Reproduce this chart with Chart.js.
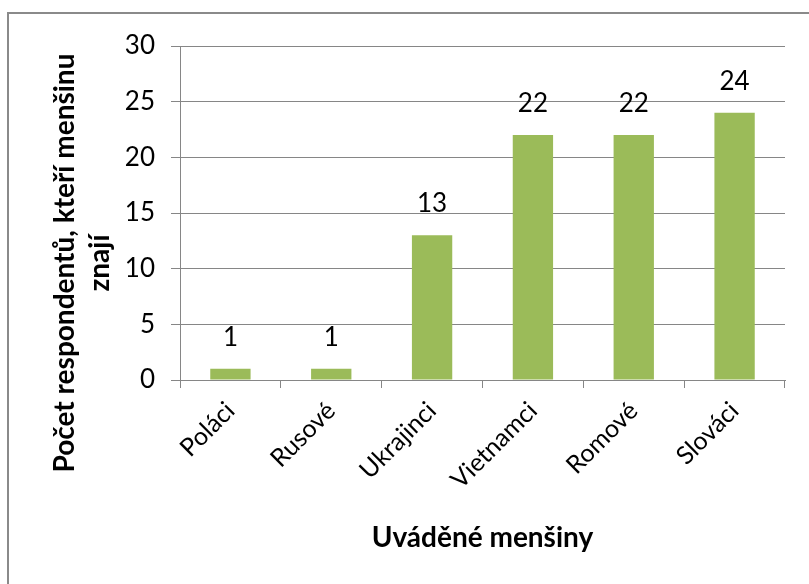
<!DOCTYPE html>
<html>
<head>
<meta charset="utf-8">
<script src="https://cdn.jsdelivr.net/npm/chart.js@4.4.1/dist/chart.umd.min.js"></script>
<style>
  html, body { margin: 0; padding: 0; background: #fff; }
  #c { display: block; }
</style>
</head>
<body>
<canvas id="c" width="809" height="584"></canvas>
<script>
const categories = ["Poláci", "Rusové", "Ukrajinci", "Vietnamci", "Romové", "Slováci"];
const counts = [1, 1, 13, 22, 22, 24];
const yTicks = [0, 5, 10, 15, 20, 25, 30];
const yTitleLines = ["Počet respondentů, kteří menšinu", "znají"];
const xTitle = "Uváděné menšiny";

const FONT = "Lato, 'Open Sans', sans-serif";
const GRID = "#868686";

const framePlugin = {
  id: "frame",
  beforeDraw(chart) {
    const ctx = chart.ctx;
    ctx.save();
    ctx.fillStyle = "#fff";
    ctx.fillRect(0, 0, chart.width, chart.height);
    ctx.strokeStyle = "#8a8a8a";
    ctx.lineWidth = 2;
    ctx.beginPath();
    ctx.moveTo(8, chart.height + 5);
    ctx.lineTo(8, 13);
    ctx.lineTo(chart.width + 5, 13);
    ctx.stroke();
    ctx.restore();
  }
};

const labelPlugin = {
  id: "valueLabels",
  afterDatasetsDraw(chart) {
    const ctx = chart.ctx;
    const meta = chart.getDatasetMeta(0);
    ctx.save();
    ctx.font = "26px " + FONT;
    ctx.fillStyle = "#000";
    ctx.textAlign = "center";
    ctx.textBaseline = "alphabetic";
    meta.data.forEach((bar, i) => {
      ctx.fillText(String(chart.data.datasets[0].data[i]), bar.x, bar.y - 23);
    });
    ctx.restore();
  }
};

const titlePlugin = {
  id: "axisTitles",
  afterDraw(chart) {
    const ctx = chart.ctx;
    const area = chart.chartArea;
    ctx.save();
    ctx.fillStyle = "#000";
    ctx.font = "bold 28px " + FONT;
    ctx.textAlign = "center";
    ctx.textBaseline = "middle";
    ctx.fillText(xTitle, (area.left + area.right) / 2, 538);
    ctx.translate(0, 263);
    ctx.rotate(-Math.PI / 2);
    ctx.fillText(yTitleLines[0], 0, 65);
    ctx.fillText(yTitleLines[1], 0, 100);
    ctx.restore();
  }
};

new Chart(document.getElementById("c"), {
  type: "bar",
  data: {
    labels: categories,
    datasets: [{
      data: counts,
      backgroundColor: "#9BBB59",
      borderWidth: 0,
      barPercentage: 0.4,
      categoryPercentage: 1.0
    }]
  },
  options: {
    responsive: false,
    animation: false,
    devicePixelRatio: 1,
    layout: { padding: { top: 46, right: 24, left: 0, bottom: 0 } },
    plugins: {
      legend: { display: false },
      tooltip: { enabled: false }
    },
    scales: {
      x: {
        offset: true,
        grid: {
          offset: true,
          display: true,
          drawOnChartArea: false,
          drawTicks: true,
          tickLength: 8,
          color: GRID
        },
        border: { display: true, color: GRID, width: 1 },
        ticks: {
          minRotation: 45,
          maxRotation: 45,
          autoSkip: false,
          padding: 8,
          color: "#000",
          font: { family: FONT, size: 25 }
        },
        afterFit(scale) { scale.height = 584 - 380; }
      },
      y: {
        min: 0,
        max: 30,
        afterBuildTicks(scale) { scale.ticks = yTicks.map(v => ({ value: v })); },
        grid: {
          color: GRID,
          drawTicks: true,
          tickLength: 9
        },
        border: { display: true, color: GRID, width: 1 },
        ticks: {
          padding: 16,
          color: "#000",
          font: { family: FONT, size: 26 }
        },
        afterFit(scale) { scale.width = 180; }
      }
    }
  },
  plugins: [framePlugin, labelPlugin, titlePlugin]
});
</script>
</body>
</html>
